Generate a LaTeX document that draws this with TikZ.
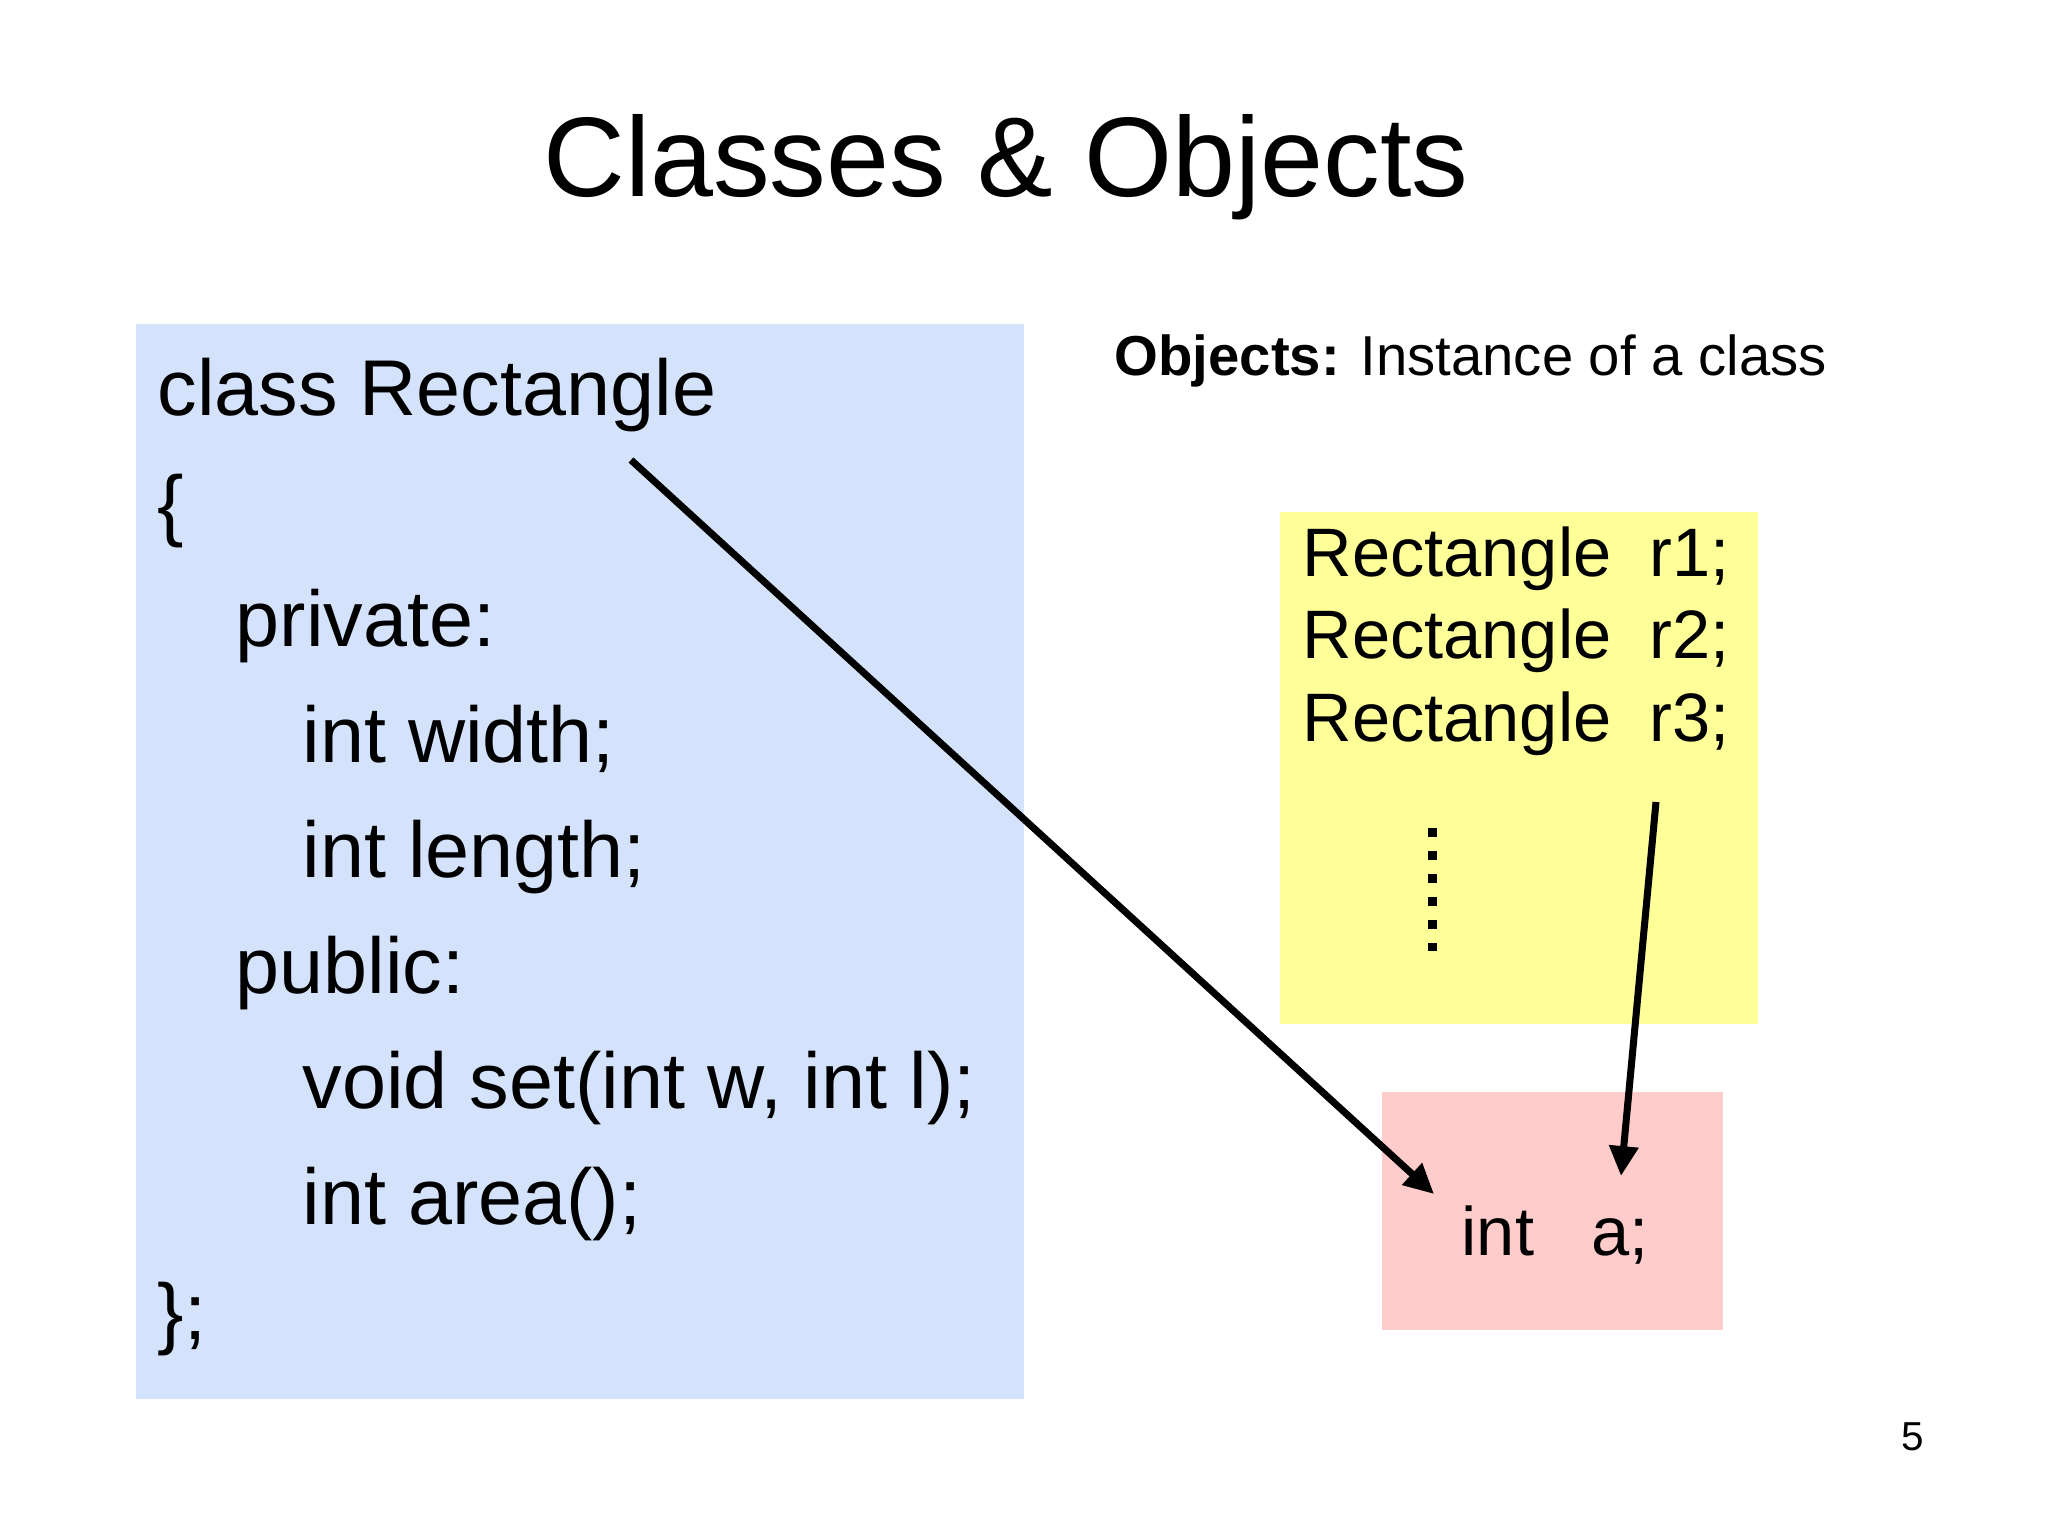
\documentclass[tikz,border=0pt]{standalone}
\usepackage{fontspec}
\setmainfont{Liberation Sans}
\usetikzlibrary{arrows.meta,calc}
\definecolor{classblue}{RGB}{213,226,251}
\definecolor{objyellow}{RGB}{255,255,153}
\definecolor{mempink}{RGB}{255,204,204}
\tikzset{
    titletext/.style={anchor=base,inner sep=0pt,font=\fontsize{32.2}{38}\selectfont},
    codeline/.style={anchor=base west,inner sep=0pt,font=\fontsize{22.5}{27}\selectfont},
    objline/.style={anchor=base west,inner sep=0pt,font=\fontsize{19.5}{23}\selectfont},
    headline/.style={anchor=base west,inner sep=0pt,font=\fontsize{16}{19}\selectfont},
    reflink/.style={-{Triangle[length=8.5pt,width=8pt]},line width=2pt},
    dotcol/.style={line width=0.09cm,dash pattern=on 0.09cm off 0.139cm}
}

\begin{document}
\begin{tikzpicture}[x=0.01cm,y=-0.01cm]
    \useasboundingbox (0,0) rectangle (2048,1536);
    % Title
    \node[titletext] (title) at (1006,196) {Classes \& Objects};
    % Class definition
    \fill[classblue] (136,324) rectangle (1024,1399);
    \node[codeline] (cls) at (157,415) {class Rectangle};
    \node[codeline] (lbrace) at (157,531) {\{};
    \node[codeline] (priv) at (235,646) {private:};
    \node[codeline] (wid) at (302,762) {int width;};
    \node[codeline] (len) at (302,877) {int length;};
    \node[codeline] (pub) at (235,993) {public:};
    \node[codeline] (setfn) at (302,1108) {void set(int w, int l);};
    \node[codeline] (areafn) at (302,1224) {int area();};
    \node[codeline] (rbrace) at (157,1339) {\};};
    % Objects
    \node[headline] (objhead) at (1114,375) {\textbf{Objects:} Instance of a class};
    \fill[objyellow] (1280,512) rectangle (1758,1024);
    \node[objline] (rone) at (1302,576) {Rectangle~~r1;};
    \node[objline] (rtwo) at (1302,658) {Rectangle~~r2;};
    \node[objline] (rthree) at (1302,741) {Rectangle~~r3;};
    \draw[dotcol] (1432,828) -- (1432,951);
    % Member storage
    \fill[mempink] (1382,1092) rectangle (1723,1330);
    \node[objline] (mema) at (1461,1255) {int~~~a;};
    % Links
    \coordinate (clsTail) at (631,460);
    \coordinate (clsTip) at (1434,1194);
    \coordinate (objTail) at (1656,802);
    \coordinate (objTip) at (1621,1176);
    \draw[reflink] (clsTail) -- (clsTip);
    \draw[reflink] (objTail) -- (objTip);
    % Page number
    \node[anchor=base,inner sep=0pt,font=\fontsize{11.5}{14}\selectfont] (pagenum) at (1913,1450) {5};
\end{tikzpicture}
\end{document}
